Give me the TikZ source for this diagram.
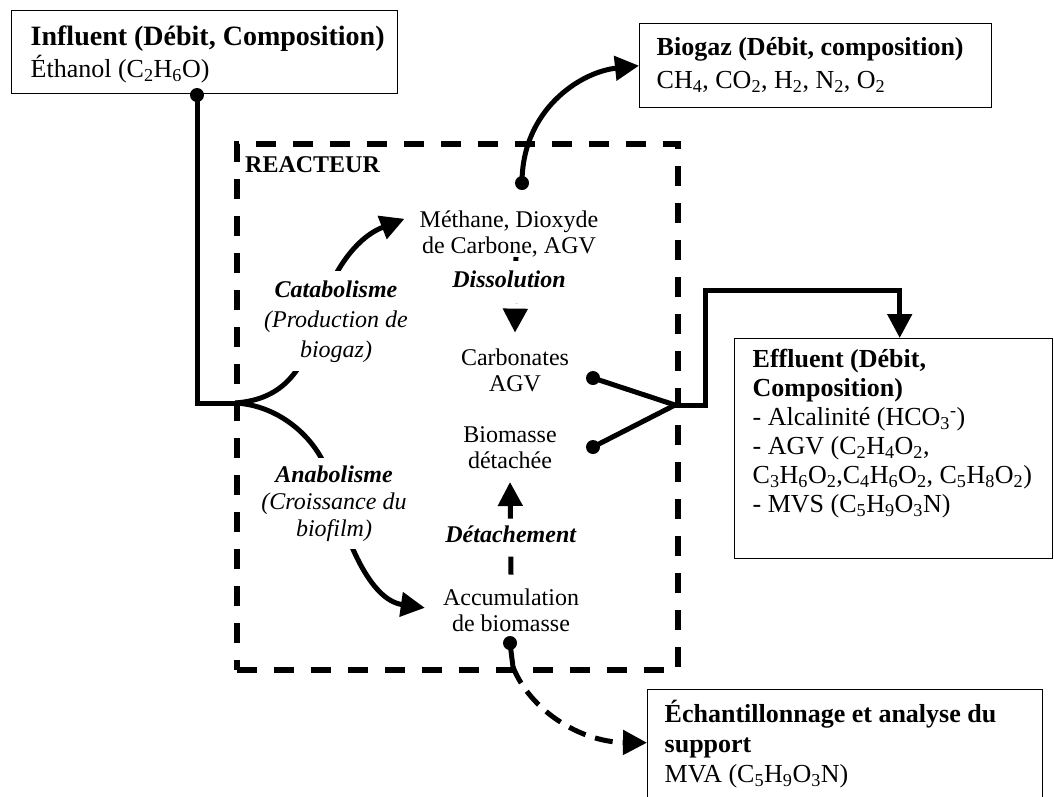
\documentclass[tikz,border=0pt]{standalone}
\usepackage{fontspec}
\setmainfont{Liberation Serif}
\usetikzlibrary{arrows.meta}

% text block of a framed box: width, height, first baseline, left pad, content
\newcommand\boxtext[5]{%
  \parbox[t][#2][t]{#1}{\raggedright\leftskip=#4\relax\rule{0pt}{#3}#5}}
% centred lines whose anchor "base" is the first baseline
\newcommand\stack[1]{\begin{tabular}[t]{@{}c@{}}#1\end{tabular}}
\newcommand\ix[1]{\textsubscript{#1}}

\tikzset{
  iobox/.style={draw, line width=1.4pt, inner sep=0pt, anchor=north west},
  txt/.style={inner sep=0pt, anchor=base, font=\fontsize{24}{26}\selectfont},
  lbl/.style={txt, fill=white, inner sep=5pt},
  link/.style={line width=5pt},
  flow/.style={link, -{Triangle[length=24pt,width=24pt]}},
  dflow/.style={flow, dash pattern=on 18pt off 10pt},
  dot/.style={circle, fill, inner sep=0pt, minimum size=14pt},
  reactorbox/.style={draw, line width=6pt, dash pattern=on 20pt off 17pt,
    inner sep=0pt, anchor=north west},
}

\begin{document}
\begin{tikzpicture}[x=1pt, y=1pt]
\useasboundingbox (0,0) rectangle (1054,-796);
\clip (0,0) rectangle (1054,-796);

% reactor
\node[reactorbox, minimum width=441pt, minimum height=526pt] (reactor) at (234,-141) {};
\node[txt, anchor=base west, font=\fontsize{24}{26}\selectfont\bfseries] (rlabel) at (245,-172) {REACTEUR};

% species inside the reactor
\node[txt] (meth) at (509,-227) {\stack{Méthane, Dioxyde\\de Carbone, AGV}};
\node[txt] (carb) at (515,-365) {\stack{Carbonates\\AGV}};
\node[txt] (biod) at (510,-442) {\stack{Biomasse\\détachée}};
\node[txt] (accu) at (511,-605) {\stack{Accumulation\\de biomasse}};

% inputs and outputs
\node[iobox, font=\fontsize{26}{32}\selectfont] (inf) at (11,-10)
  {\boxtext{386pt}{83pt}{35pt}{19pt}{{\bfseries\fontsize{28}{32}\selectfont Influent (Débit, Composition)}\\
   Éthanol (C\ix{2}H\ix{6}O)}};
\node[iobox, font=\fontsize{26}{33}\selectfont] (biog) at (639,-23)
  {\boxtext{352pt}{84pt}{32pt}{17pt}{\textbf{Biogaz (Débit, composition)}\\
   CH\ix{4}, CO\ix{2}, H\ix{2}, N\ix{2}, O\ix{2}}};
\node[iobox, font=\fontsize{26}{29}\selectfont] (eff) at (734,-338)
  {\boxtext{318pt}{220pt}{29pt}{18pt}{\textbf{Effluent (Débit,}\\
   \textbf{Composition)}\\
   - Alcalinité (HCO\ix{3}\textsuperscript{-})\\
   - AGV (C\ix{2}H\ix{4}O\ix{2},\\
   C\ix{3}H\ix{6}O\ix{2},C\ix{4}H\ix{6}O\ix{2}, C\ix{5}H\ix{8}O\ix{2})\\
   - MVS (C\ix{5}H\ix{9}O\ix{3}N)}};
\node[iobox, font=\fontsize{26}{30}\selectfont] (ech) at (647,-689)
  {\boxtext{395pt}{130pt}{33pt}{17pt}{\textbf{Échantillonnage et analyse du}\\
   \textbf{support}\\
   MVA (C\ix{5}H\ix{9}O\ix{3}N)}};

% junction points and dots
\node[dot] (d0) at (197,-95) {};
\coordinate (split) at (235,-403);
\node[dot] (d1) at (522,-183) {};
\node[dot] (d2) at (593,-378) {};
\node[dot] (d3) at (593,-447) {};
\coordinate (mix) at (675,-405);
\node[dot] (d4) at (510,-643) {};
\coordinate (rbot) at (513,-667);

% feed line and its two branches
\draw[link] (d0.center) |- (split);
\draw[flow] (split) .. controls (275,-400) and (300,-380) .. (315,-330)
  .. controls (325,-285) and (350,-240) .. ([xshift=-15pt,yshift=16pt]meth.west);
\draw[flow] (split) .. controls (280,-405) and (320,-440) .. (330,-480)
  .. controls (345,-540) and (370,-600) .. ([xshift=-18pt,yshift=5pt]accu.west);

% gas leaving the reactor
\draw[flow] (d1.center) .. controls (522,-110) and (580,-72) .. (biog.west);

% transfers inside the reactor
\draw[dflow] ([xshift=7pt,yshift=4pt]meth.south) -- ([yshift=14pt]carb.north);
\draw[dflow] ([yshift=12pt]accu.north) -- ([yshift=-6pt]biod.south);

% liquid outlet
\draw[link] (d2.center) -- (mix);
\draw[link] (d3.center) -- (mix);
\draw[flow] (mix) -- ++(30,0) -- ++(0,115) -| ([xshift=6pt]eff.north);

% support sampling
\draw[link] (d4.center) -- (rbot);
\draw[dflow] (rbot) .. controls (530,-710) and (580,-742) .. ([yshift=12pt]ech.west);

% process labels
\node[lbl] (cata) at (336,-297)
  {\fontsize{24}{30}\selectfont\stack{\textbf{\textit{Catabolisme}}\\\textit{(Production de}\\\textit{biogaz)}}};
\node[lbl] (ana) at (334,-482)
  {\fontsize{24}{27}\selectfont\stack{\textbf{\textit{Anabolisme}}\\\textit{(Croissance du}\\\textit{biofilm)}}};
\node[lbl, inner ysep=8pt] (diss) at (509,-287) {\strut\textbf{\textit{Dissolution}}};
\node[lbl, inner ysep=4pt] (det) at (511,-542) {\strut\textbf{\textit{Détachement}}};
\end{tikzpicture}
\end{document}
